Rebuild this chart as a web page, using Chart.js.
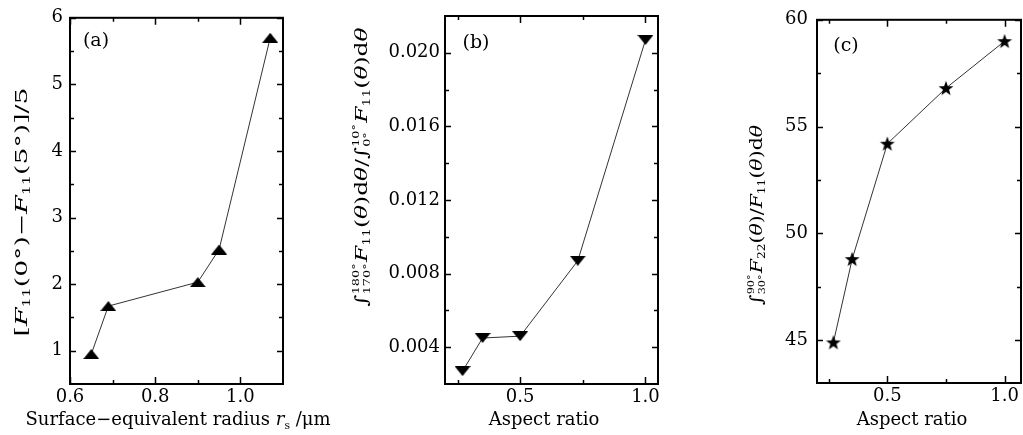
<!DOCTYPE html>
<html>
<head>
<meta charset="utf-8">
<script src="https://cdn.jsdelivr.net/npm/chart.js@4.4.1/dist/chart.umd.min.js"></script>
<style>
  body { margin: 0; background: #fff; overflow: hidden; }
  #wrap { position: relative; width: 1023px; height: 435px; overflow: hidden; }
  canvas { position: absolute; top: 0; }
</style>
</head>
<body>
<div id="wrap">
  <canvas id="chartA" width="340" height="435" style="left:0px"></canvas>
  <canvas id="chartB" width="340" height="435" style="left:340px"></canvas>
  <canvas id="chartC" width="300" height="435" style="left:730px"></canvas>
</div>
<script>
// panel (a): surface-equivalent radius
const radiusA = [0.65, 0.69, 0.90, 0.95, 1.07];
const forwardPeakA = [0.95, 1.67, 2.03, 2.52, 5.70];
const xTicksA = [0.6, 0.8, 1.0];
const xMinorA = [0.7, 0.9];
const yTicksA = [1, 2, 3, 4, 5, 6];
const yMinorA = [1.5, 2.5, 3.5, 4.5, 5.5];

// panel (b): aspect ratio vs backscatter ratio
const aspectB = [0.27, 0.35, 0.50, 0.73, 1.00];
const backRatioB = [0.0027, 0.0045, 0.0046, 0.0087, 0.0207];
const xTicksB = [0.5, 1.0];
const xMinorB = [0.25, 0.75];
const yTicksB = [0.004, 0.008, 0.012, 0.016, 0.020];
const yMinorB = [0.006, 0.010, 0.014, 0.018];

// panel (c): aspect ratio vs F22/F11 integral
const aspectC = [0.27, 0.35, 0.50, 0.75, 1.00];
const f22RatioC = [44.9, 48.8, 54.2, 56.8, 59.0];
const xTicksC = [0.5, 1.0];
const xMinorC = [0.25, 0.75];
const yTicksC = [45, 50, 55, 60];
const yMinorC = [47.5, 52.5, 57.5];

const FONT = '"DejaVu Serif", "Liberation Serif", serif';

function makeMarker(kind) {
  const c = document.createElement('canvas');
  const g = c.getContext('2d');
  if (kind === 'star') {
    c.width = 16; c.height = 16;
    g.beginPath();
    for (let k = 0; k < 10; k++) {
      const r = k % 2 ? 3.2 : 7.8;
      const a = -Math.PI / 2 + k * Math.PI / 5;
      g.lineTo(8 + r * Math.cos(a), 8.6 + r * Math.sin(a));
    }
  } else {
    c.width = 16; c.height = 10;
    g.beginPath();
    if (kind === 'down') { g.moveTo(0, 0); g.lineTo(16, 0); g.lineTo(8, 10); }
    else { g.moveTo(8, 0); g.lineTo(16, 10); g.lineTo(0, 10); }
  }
  g.closePath();
  g.fillStyle = '#000';
  g.fill();
  return c;
}

// rich text: italic, subscripts, stacked integral limits
function segFont(s, size) {
  return (s.i ? 'italic ' : '') + size.toFixed(1) + 'px ' + FONT;
}
function segWidth(ctx, s, size) {
  if (s.lim) {
    ctx.font = segFont({}, size * 0.55);
    return Math.max(ctx.measureText(s.sup).width, ctx.measureText(s.sub).width) + 1;
  }
  ctx.font = segFont(s, s.sub ? size * 0.6 : size);
  return ctx.measureText(s.t).width;
}
function drawRich(ctx, segs, size, len) {
  const w = segs.reduce((acc, s) => acc + segWidth(ctx, s, size), 0);
  if (len) ctx.scale(len / w, 1);
  let x = -w / 2;
  const base = size * 0.33;
  ctx.textAlign = 'left';
  ctx.textBaseline = 'alphabetic';
  ctx.fillStyle = '#000';
  segs.forEach(s => {
    const sw = segWidth(ctx, s, size);
    if (s.lim) {
      ctx.font = segFont({}, size * 0.55);
      ctx.fillText(s.sup, x, base - size * 0.45);
      ctx.fillText(s.sub, x, base + size * 0.2);
    } else {
      ctx.font = segFont(s, s.sub ? size * 0.6 : size);
      ctx.fillText(s.t, x, s.sub ? base + size * 0.22 : base);
    }
    x += sw;
  });
}

const decorPlugin = {
  id: 'decor',
  afterDraw(chart, args, opts) {
    const ctx = chart.ctx;
    const a = chart.chartArea;
    const xs = chart.scales.x, ys = chart.scales.y;
    ctx.save();
    ctx.strokeStyle = '#000';
    ctx.lineWidth = 1.5;
    ctx.beginPath();
    const tick = (vals, len, isX) => vals.forEach(v => {
      if (isX) {
        const p = Math.round(xs.getPixelForValue(v)) + 0.5;
        ctx.moveTo(p, a.bottom); ctx.lineTo(p, a.bottom - len);
        ctx.moveTo(p, a.top); ctx.lineTo(p, a.top + len);
      } else {
        const p = Math.round(ys.getPixelForValue(v)) + 0.5;
        ctx.moveTo(a.left, p); ctx.lineTo(a.left + len, p);
        ctx.moveTo(a.right, p); ctx.lineTo(a.right - len, p);
      }
    });
    tick(opts.xMajor, 7, true);
    tick(opts.xMinor, 4, true);
    tick(opts.yMajor, 6, false);
    tick(opts.yMinor, 4, false);
    ctx.stroke();
    ctx.lineWidth = 2;
    ctx.strokeRect(a.left, a.top, a.right - a.left, a.bottom - a.top);
    opts.texts.forEach(t => {
      ctx.save();
      ctx.translate(t.x, t.y);
      if (t.rot) ctx.rotate(-Math.PI / 2);
      drawRich(ctx, t.segs, t.size, t.len);
      ctx.restore();
    });
    ctx.restore();
  }
};

function makeChart(id, cfg) {
  const pts = cfg.xs.map((x, i) => ({ x: x, y: cfg.ys[i] }));
  return new Chart(document.getElementById(id), {
    type: 'scatter',
    data: {
      datasets: [{
        data: pts,
        showLine: true,
        borderColor: '#333',
        borderWidth: 1,
        pointStyle: makeMarker(cfg.marker),
        pointRadius: 8,
        pointHoverRadius: 8
      }]
    },
    options: {
      responsive: false,
      animation: false,
      devicePixelRatio: 1,
      layout: { padding: { top: 16, right: cfg.padRight, left: 0, bottom: 0 } },
      plugins: {
        legend: { display: false },
        tooltip: { enabled: false },
        decor: {
          xMajor: cfg.xTicks, xMinor: cfg.xMinor,
          yMajor: cfg.yTicks, yMinor: cfg.yMinor,
          texts: cfg.texts
        }
      },
      scales: {
        x: {
          type: 'linear', min: cfg.xMin, max: cfg.xMax,
          grid: { display: false, drawTicks: false },
          border: { display: false },
          afterBuildTicks: s => { s.ticks = cfg.xTicks.map(v => ({ value: v })); },
          afterFit: s => { s.height = cfg.xHeight; },
          ticks: {
            padding: 3, color: '#000', maxRotation: 0,
            font: { family: FONT, size: 18 },
            callback: v => v.toFixed(1)
          }
        },
        y: {
          type: 'linear', min: cfg.yMin, max: cfg.yMax,
          grid: { display: false, drawTicks: false },
          border: { display: false },
          afterBuildTicks: s => { s.ticks = cfg.yTicks.map(v => ({ value: v })); },
          afterFit: s => { s.width = cfg.yWidth; },
          ticks: {
            padding: cfg.yPad, color: '#000',
            font: { family: FONT, size: 18 },
            callback: v => v.toFixed(cfg.yDigits)
          }
        }
      }
    },
    plugins: [decorPlugin]
  });
}

const F = { t: 'F', i: 1 };
const TH = { t: 'θ', i: 1 };

makeChart('chartA', {
  xs: radiusA, ys: forwardPeakA, marker: 'up',
  xMin: 0.6, xMax: 1.1, yMin: 0.5, yMax: 6,
  xTicks: xTicksA, xMinor: xMinorA, yTicks: yTicksA, yMinor: yMinorA,
  yDigits: 0, yWidth: 70, yPad: 7, xHeight: 51, padRight: 57,
  texts: [
    { x: 96, y: 40, size: 19, segs: [{ t: '(a)' }] },
    { x: 178, y: 419, size: 18, segs: [{ t: 'Surface−equivalent radius ' }, { t: 'r', i: 1 }, { t: 's', sub: 1 }, { t: ' /μm' }] },
    { x: 21, y: 212, size: 17, len: 249, rot: 1, segs: [{ t: '[' }, F, { t: '11', sub: 1 }, { t: '(0°)−' }, F, { t: '11', sub: 1 }, { t: '(5°)]/5' }] }
  ]
});

makeChart('chartB', {
  xs: aspectB, ys: backRatioB, marker: 'down',
  xMin: 0.2, xMax: 1.05, yMin: 0.002, yMax: 0.022,
  xTicks: xTicksB, xMinor: xMinorB, yTicks: yTicksB, yMinor: yMinorB,
  yDigits: 3, yWidth: 105, yPad: 5, xHeight: 51, padRight: 22,
  texts: [
    { x: 136, y: 42, size: 19, segs: [{ t: '(b)' }] },
    { x: 204, y: 419, size: 18, segs: [{ t: 'Aspect ratio' }] },
    { x: 21, y: 167, size: 17, len: 279, rot: 1, segs: [{ t: '∫' }, { lim: 1, sup: '180°', sub: '170°' }, F, { t: '11', sub: 1 }, { t: '(' }, TH, { t: ')d' }, TH, { t: '/∫' }, { lim: 1, sup: '10°', sub: '0°' }, F, { t: '11', sub: 1 }, { t: '(' }, TH, { t: ')d' }, TH] }
  ]
});

makeChart('chartC', {
  xs: aspectC, ys: f22RatioC, marker: 'star',
  xMin: 0.2, xMax: 1.07, yMin: 43, yMax: 60,
  xTicks: xTicksC, xMinor: xMinorC, yTicks: yTicksC, yMinor: yMinorC,
  yDigits: 0, yWidth: 87, yPad: 9, xHeight: 52, padRight: 5,
  texts: [
    { x: 116, y: 45, size: 19, segs: [{ t: '(c)' }] },
    { x: 182, y: 419, size: 18, segs: [{ t: 'Aspect ratio' }] },
    { x: 26, y: 215, size: 17, len: 180, rot: 1, segs: [{ t: '∫' }, { lim: 1, sup: '90°', sub: '30°' }, F, { t: '22', sub: 1 }, { t: '(' }, TH, { t: ')/' }, F, { t: '11', sub: 1 }, { t: '(' }, TH, { t: ')d' }, TH] }
  ]
});
</script>
</body>
</html>
